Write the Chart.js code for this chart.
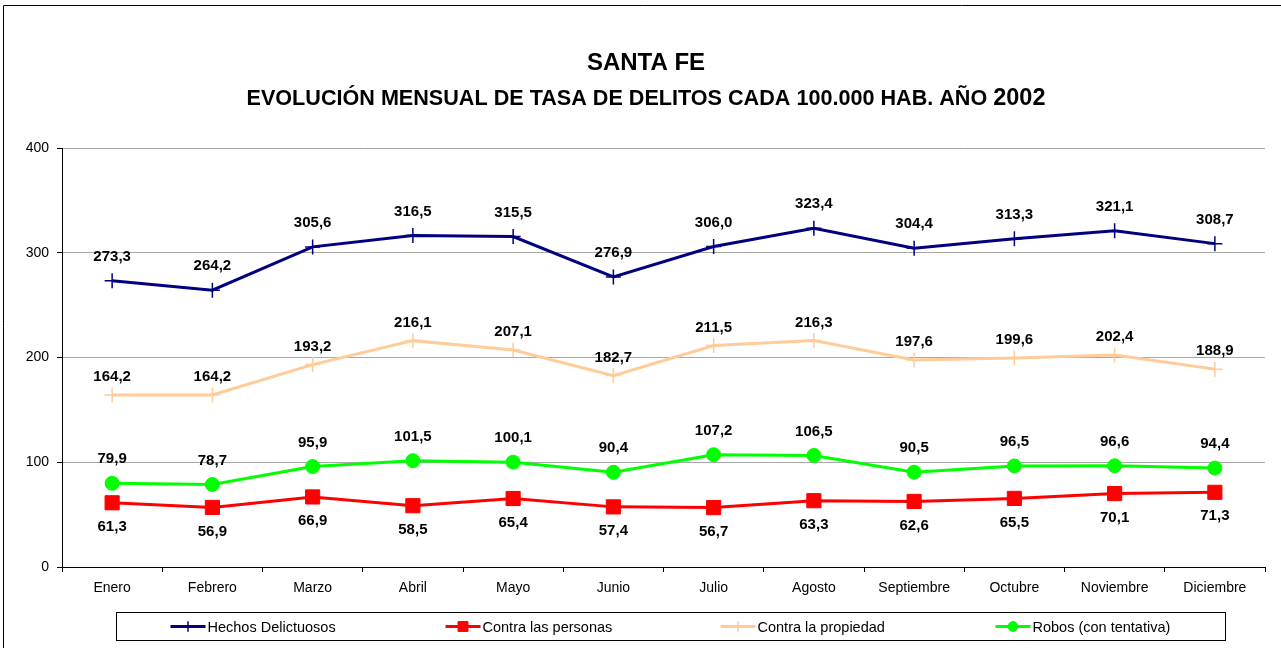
<!DOCTYPE html>
<html>
<head>
<meta charset="utf-8">
<script src="https://cdn.jsdelivr.net/npm/chart.js@4.4.0/dist/chart.umd.min.js"></script>
<style>
  body { margin: 0; background: #fff; }
</style>
</head>
<body>
<canvas id="myChart" width="1281" height="648"></canvas>
<script>
// data
const months = ['Enero', 'Febrero', 'Marzo', 'Abril', 'Mayo', 'Junio', 'Julio', 'Agosto', 'Septiembre', 'Octubre', 'Noviembre', 'Diciembre'];
const hechos = [273.3, 264.2, 305.6, 316.5, 315.5, 276.9, 306.0, 323.4, 304.4, 313.3, 321.1, 308.7];
const personas = [61.3, 56.9, 66.9, 58.5, 65.4, 57.4, 56.7, 63.3, 62.6, 65.5, 70.1, 71.3];
const propiedad = [164.2, 164.2, 193.2, 216.1, 207.1, 182.7, 211.5, 216.3, 197.6, 199.6, 202.4, 188.9];
const robos = [79.9, 78.7, 95.9, 101.5, 100.1, 90.4, 107.2, 106.5, 90.5, 96.5, 96.6, 94.4];
const yTicks = [0, 100, 200, 300, 400];

const FONT = '"Liberation Sans", Arial, sans-serif';

// label offsets above (-) or below (+) each point
const labelOffset = [-24, 24, -18, -24];

const fmt = v => v.toFixed(1).replace('.', ',');

const excelLook = {
    id: 'excelLook',
    beforeDraw(chart) {
        const ctx = chart.ctx;
        ctx.save();
        ctx.fillStyle = '#fff';
        ctx.fillRect(0, 0, chart.width, chart.height);
        ctx.strokeStyle = '#000';
        ctx.lineWidth = 1;
        ctx.beginPath();
        ctx.moveTo(3.5, chart.height);
        ctx.lineTo(3.5, 5.5);
        ctx.lineTo(chart.width, 5.5);
        ctx.stroke();
        ctx.restore();
    },
    afterDatasetsDraw(chart) {
        const ctx = chart.ctx;
        ctx.save();
        ctx.font = 'bold 15px ' + FONT;
        ctx.fillStyle = '#000';
        ctx.textAlign = 'center';
        ctx.textBaseline = 'middle';
        chart.data.datasets.forEach((ds, i) => {
            const meta = chart.getDatasetMeta(i);
            meta.data.forEach((pt, j) => {
                ctx.fillText(fmt(ds.data[j]), pt.x, pt.y + labelOffset[i]);
            });
        });
        ctx.restore();
    },
    afterDraw(chart) {
        const ctx = chart.ctx;
        ctx.save();
        ctx.fillStyle = '#000';
        ctx.textBaseline = 'middle';
        // titles
        const cx = 646;
        ctx.textAlign = 'center';
        ctx.font = 'bold 24px ' + FONT;
        ctx.fillText('SANTA FE', cx, 63);
        const sub1 = 'EVOLUCIÓN MENSUAL DE TASA DE DELITOS CADA 100.000 HAB. AÑO ';
        const sub2 = '2002';
        ctx.font = 'bold 21.6px ' + FONT;
        const w1 = ctx.measureText(sub1).width;
        ctx.font = 'bold 23.5px ' + FONT;
        const w2 = ctx.measureText(sub2).width;
        const sx = cx - (w1 + w2) / 2;
        ctx.textAlign = 'left';
        ctx.font = 'bold 21.6px ' + FONT;
        ctx.fillText(sub1, sx, 99);
        ctx.font = 'bold 23.5px ' + FONT;
        ctx.fillText(sub2, sx + w1, 98.5);

        // legend box
        const bx = 116.5, by = 612.5, bw = 1109, bh = 28;
        ctx.strokeStyle = '#000';
        ctx.lineWidth = 1;
        ctx.strokeRect(bx, by, bw, bh);
        ctx.font = '14.5px ' + FONT;
        const ly = by + bh / 2;
        chart.data.datasets.forEach((ds, i) => {
            const x0 = bx + 54 + i * 275;
            ctx.strokeStyle = ds.borderColor;
            ctx.fillStyle = ds.borderColor;
            ctx.lineWidth = 3;
            ctx.beginPath();
            ctx.moveTo(x0, ly);
            ctx.lineTo(x0 + 35, ly);
            ctx.stroke();
            ctx.lineWidth = ds.pointBorderWidth;
            Chart.helpers.drawPoint(ctx, {
                pointStyle: ds.pointStyle,
                radius: ds.pointRadius * 0.7,
                borderWidth: ds.pointBorderWidth,
                rotation: 0
            }, x0 + 17.5, ly);
            ctx.fillStyle = '#000';
            ctx.fillText(ds.label, x0 + 37, ly + 1);
        });
        ctx.restore();
    }
};

const makeChart = () => {
    const mkSet = (label, data, color, style, radius, bw) => ({
        label: label,
        data: data,
        borderColor: color,
        backgroundColor: color,
        pointBackgroundColor: color,
        pointBorderColor: color,
        pointStyle: style,
        pointRadius: radius,
        pointBorderWidth: bw,
        borderWidth: 3,
        tension: 0
    });
    const data = {
        labels: months,
        datasets: [
            mkSet('Hechos Delictuosos', hechos, '#000080', 'cross', 7.5, 1.5),
            mkSet('Contra las personas', personas, '#FF0000', 'rect', 10, 1),
            mkSet('Contra la propiedad', propiedad, '#FFCC99', 'cross', 7.5, 1.5),
            mkSet('Robos (con tentativa)', robos, '#00FF00', 'circle', 7, 1)
        ]
    };
    const config = {
        type: 'line',
        data,
        plugins: [excelLook],
        options: {
            responsive: false,
            animation: false,
            layout: { padding: { left: 0, top: 148, right: 16, bottom: 0 } },
            plugins: {
                legend: { display: false },
                title: { display: false },
                tooltip: { enabled: false }
            },
            scales: {
                x: {
                    offset: true,
                    afterFit: s => { s.height = 81; },
                    grid: {
                        offset: true,
                        drawOnChartArea: false,
                        drawTicks: true,
                        tickLength: 5,
                        tickColor: '#000'
                    },
                    border: { color: '#000', width: 1 },
                    ticks: {
                        color: '#000',
                        font: { family: FONT, size: 14 },
                        padding: 8,
                        maxRotation: 0,
                        autoSkip: false
                    }
                },
                y: {
                    min: yTicks[0],
                    max: yTicks[yTicks.length - 1],
                    afterFit: s => { s.width = 62; },
                    afterBuildTicks: s => { s.ticks = yTicks.map(v => ({ value: v })); },
                    grid: {
                        color: '#a8a8a8',
                        tickLength: 5,
                        tickColor: '#000'
                    },
                    border: { color: '#000', width: 1 },
                    ticks: {
                        color: '#000',
                        font: { family: FONT, size: 14 },
                        padding: 8
                    }
                }
            }
        }
    };
    let myChart = new Chart('myChart', config);
};

makeChart();
</script>
</body>
</html>
